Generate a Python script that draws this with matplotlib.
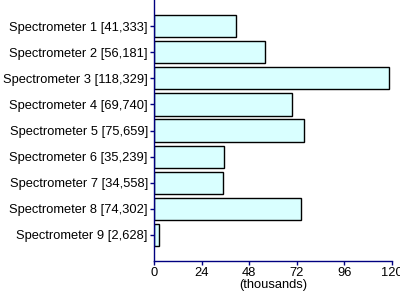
import matplotlib
matplotlib.use("Agg")
import matplotlib.pyplot as plt

names = ["Spectrometer 1", "Spectrometer 2", "Spectrometer 3", "Spectrometer 4",
         "Spectrometer 5", "Spectrometer 6", "Spectrometer 7", "Spectrometer 8",
         "Spectrometer 9"]
counts = [41333, 56181, 118329, 69740, 75659, 35239, 34558, 74302, 2628]
xticks = [0, 24, 48, 72, 96, 120]

labels = ["%s [%s]" % (n, format(c, ",")) for n, c in zip(names, counts)]
values = [c / 1000.0 for c in counts]
pos = list(range(1, len(names) + 1))

plt.rcParams['font.family'] = ['Liberation Sans', 'DejaVu Sans']
axis_color = "#000080"
fs = 9.3

fig = plt.figure(figsize=(4, 2.98), dpi=100)
ax = fig.add_axes([0.385, 0.124, 0.595, 0.876])

ax.barh(pos, values, height=0.85, color="#D9FFFF", edgecolor="black", linewidth=1)

ax.set_ylim(10, 0)
ax.set_xlim(0, 120)
ax.set_yticks(pos)
ax.set_yticklabels(labels, fontsize=fs)
ax.set_xticks(xticks)
ax.set_xticklabels([str(t) for t in xticks], fontsize=fs)
ax.set_xlabel("(thousands)", fontsize=fs, labelpad=0)

for side in ["top", "right"]:
    ax.spines[side].set_visible(False)
for side in ["left", "bottom"]:
    ax.spines[side].set_color(axis_color)
    ax.spines[side].set_linewidth(1)
ax.tick_params(axis="both", colors=axis_color, length=3, width=1, pad=1.5)
ax.tick_params(axis="both", labelcolor="black")

fig.savefig("out.png", dpi=100)
